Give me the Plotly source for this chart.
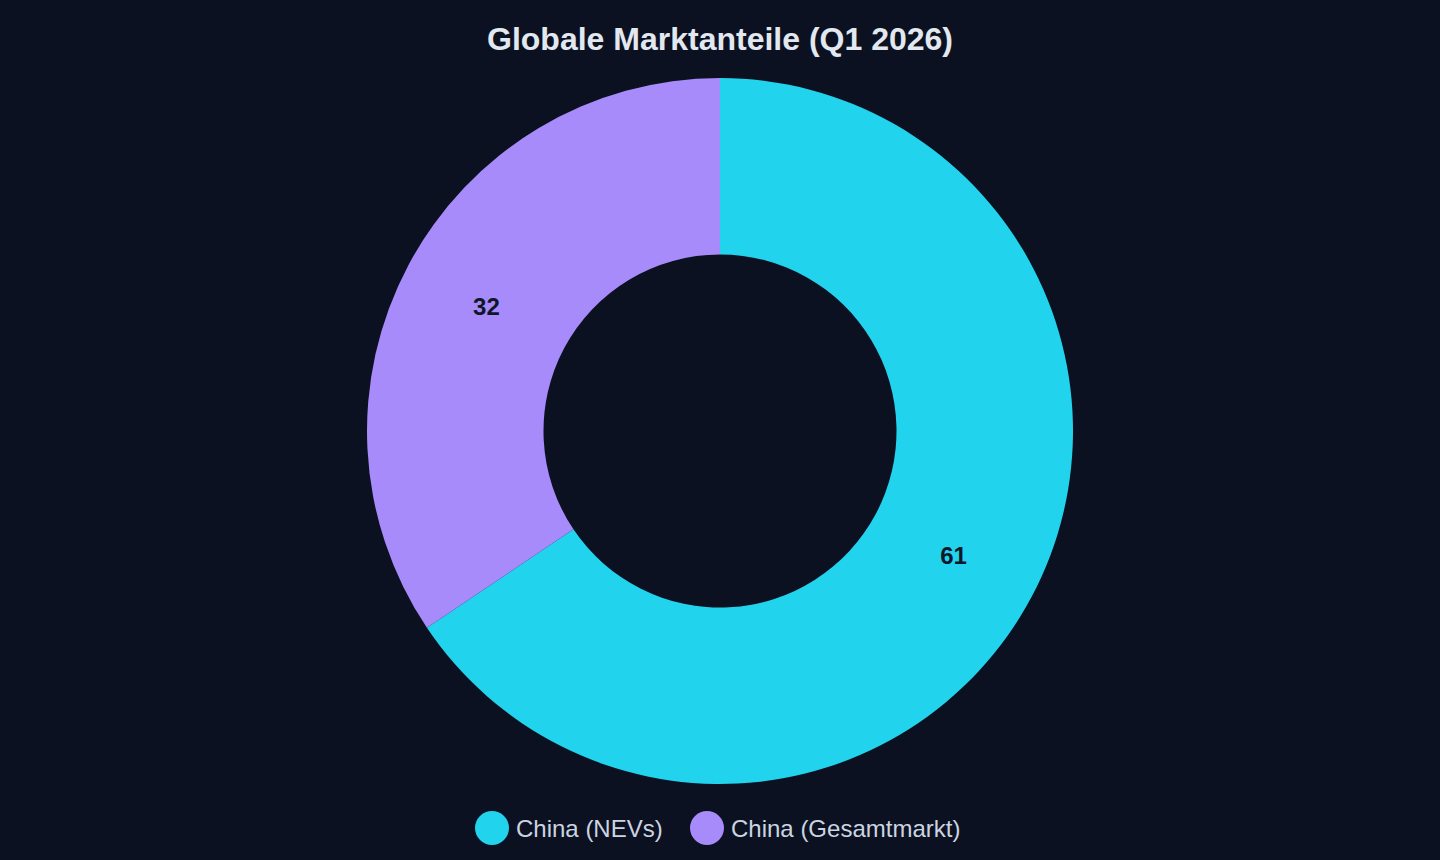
import plotly.graph_objects as go

labels = ["China (NEVs)", "China (Gesamtmarkt)"]
values = [61, 32]
colors = ["#22d3ee", "#a78bfa"]
title = "Globale Marktanteile (Q1 2026)"

BG = "#0b1120"
FONT = "Liberation Sans, Arial, sans-serif"

W, H = 1440, 860
TOP, BOT = 78, 76          # pie area top / legend strip height (px)
PLOT_H = H - TOP           # plotting area height (margin b = 0)

# legend layout (pixel positions in the legend strip)
LEG_Y = 828
LEG_MARKER_X = [492, 707]
LEG_TEXT_X = [514, 729]

fig = go.Figure()
fig.add_trace(go.Pie(
    labels=labels, values=values, hole=0.5, sort=False,
    direction="clockwise", rotation=0,
    marker=dict(colors=colors, line=dict(width=0)),
    textinfo="value", textposition="inside",
    insidetextorientation="horizontal",
    textfont=dict(family=FONT, size=24, color="#0f172a", weight="bold"),
    showlegend=False, hoverinfo="label+value",
    domain=dict(x=[0, 1], y=[BOT / PLOT_H, 1]),
))

# custom legend with large circle markers
fig.add_trace(go.Scatter(
    x=LEG_MARKER_X, y=[LEG_Y] * len(labels), mode="markers",
    marker=dict(symbol="circle", size=34, color=colors, line=dict(width=0)),
    hovertext=labels, hoverinfo="text", showlegend=False,
    xaxis="x", yaxis="y",
))
for lab, tx in zip(labels, LEG_TEXT_X):
    fig.add_annotation(
        x=tx, y=LEG_Y, xref="x", yref="y", text=lab, showarrow=False,
        xanchor="left", yanchor="middle",
        font=dict(family=FONT, size=24, color="#cbd5e1"),
    )

fig.update_layout(
    width=W, height=H,
    paper_bgcolor=BG, plot_bgcolor="rgba(0,0,0,0)",
    margin=dict(l=0, r=0, t=TOP, b=0),
    showlegend=False,
    title=dict(text=title, x=0.5, xanchor="center", y=1 - 39 / H, yanchor="middle",
               font=dict(family=FONT, size=32, color="#e2e8f0", weight="bold")),
    xaxis=dict(visible=False, range=[0, W], domain=[0, 1], fixedrange=True),
    yaxis=dict(visible=False, range=[H, H - BOT], domain=[0, BOT / PLOT_H], fixedrange=True),
)
fig.write_html("out.html")
